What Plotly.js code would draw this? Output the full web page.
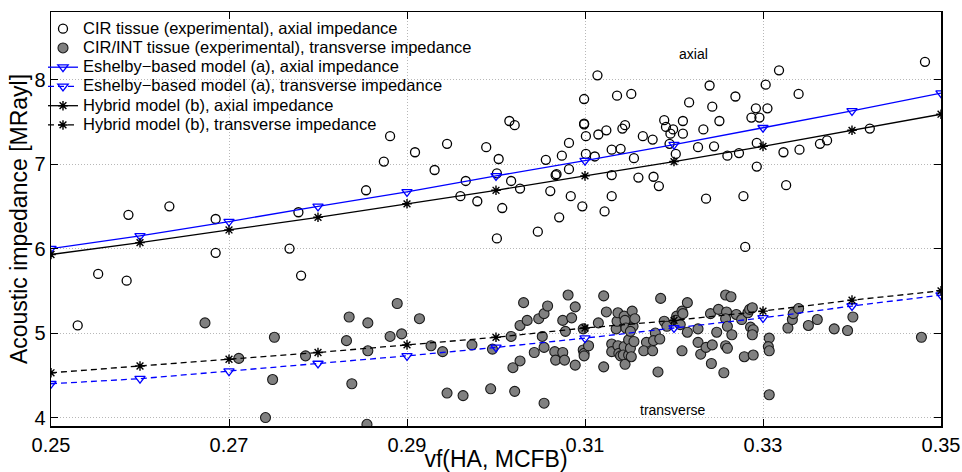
<!DOCTYPE html>
<html><head><meta charset="utf-8">
<script src="https://cdn.plot.ly/plotly-3.0.1.min.js"></script>
<style>html,body{margin:0;padding:0;background:#fff}#chart{width:962px;height:472px}</style>
</head><body><div id="chart"></div>
<script>
// CIR tissue (experimental), axial impedance
const axialX = [0.2530,0.2553,0.2585,0.2587,0.2633,0.2685,0.2685,0.2768,0.2778,0.2781,
0.2854,0.2874,0.2881,0.2909,0.2931,0.2945,0.2960,0.2966,0.2979,0.2989,
0.3001,0.3003,0.3001,0.3007,0.3015,0.3021,0.3017,0.3027,0.3047,0.3056,
0.3061,0.3067,0.3068,0.3071,0.3074,0.3082,0.3082,0.3084,0.3097,0.3099,
0.3099,0.3099,0.3101,0.3101,0.3111,0.3114,0.3115,0.3122,0.3124,0.3130,
0.3130,0.3130,0.3136,0.3140,0.3142,0.3145,0.3152,0.3155,0.3160,0.3165,
0.3176,0.3177,0.3183,0.3189,0.3191,0.3196,0.3199,0.3195,0.3202,0.3210,
0.3210,0.3217,0.3227,0.3233,0.3236,0.3240,0.3243,0.3245,0.3251,0.3260,
0.3269,0.3273,0.3278,0.3280,0.3287,0.3292,0.3296,0.3293,0.3293,0.3303,
0.3305,0.3318,0.3323,0.3326,0.3340,0.3341,0.3364,0.3372,0.3420,0.3482];
const axialY = [5.09,5.70,5.62,6.40,6.50,6.35,5.95,6.00,6.43,5.68,
6.69,7.03,7.33,7.14,6.93,7.24,6.62,6.80,6.56,7.20,
6.89,7.06,6.12,6.48,7.51,7.46,6.80,6.71,6.20,7.05,
6.68,6.87,6.88,6.37,7.10,7.25,6.94,6.62,6.50,7.77,
7.47,7.48,7.33,7.12,7.09,8.05,7.35,6.44,7.40,7.17,
6.87,6.62,7.81,7.18,7.42,7.46,7.83,7.07,6.84,7.33,
7.29,6.85,6.74,7.52,7.44,7.36,7.41,7.24,7.12,7.51,
7.36,7.73,7.20,7.41,6.59,7.93,7.68,7.21,7.51,7.10,
7.80,7.13,6.62,6.02,7.55,7.66,7.55,7.25,6.97,7.94,
7.66,8.11,7.14,6.75,7.83,7.17,7.24,7.28,7.42,8.21];

// CIR/INT tissue (experimental), transverse impedance
const transX = [0.2673,0.2711,0.2751,0.2749,0.2741,0.2786,0.2835,0.2832,0.2838,0.2856,
0.2856,0.2855,0.2889,0.2881,0.2894,0.2914,0.2927,0.2940,0.2945,0.2963,
0.2973,0.2994,0.2996,0.3017,0.3019,0.3021,0.3027,0.3027,0.3031,0.3035,
0.3043,0.3048,0.3054,0.3058,0.3052,0.3054,0.3054,0.3066,0.3067,0.3075,
0.3075,0.3077,0.3078,0.3081,0.3085,0.3089,0.3089,0.3098,0.3098,0.3099,
0.3099,0.3104,0.3115,0.3121,0.3121,0.3124,0.3130,0.3130,0.3135,0.3136,
0.3137,0.3137,0.3138,0.3140,0.3144,0.3145,0.3144,0.3143,0.3145,0.3146,
0.3149,0.3149,0.3151,0.3152,0.3153,0.3154,0.3155,0.3156,0.3151,0.3185,
0.3179,0.3169,0.3166,0.3176,0.3177,0.3184,0.3182,0.3189,0.3192,0.3203,
0.3202,0.3207,0.3209,0.3210,0.3215,0.3215,0.3209,0.3227,0.3227,0.3230,
0.3236,0.3243,0.3241,0.3242,0.3248,0.3250,0.3256,0.3258,0.3264,0.3259,
0.3258,0.3260,0.3258,0.3260,0.3265,0.3270,0.3276,0.3279,0.3283,0.3285,
0.3288,0.3286,0.3289,0.3288,0.3289,0.3307,0.3306,0.3307,0.3307,0.3328,
0.3333,0.3334,0.3340,0.3351,0.3361,0.3380,0.3395,0.3401,0.3478];
const transY = [5.12,4.70,4.95,4.45,4.00,4.73,5.19,4.91,4.40,5.12,
4.79,3.92,5.35,4.96,4.99,5.17,4.85,4.78,4.29,4.26,
4.86,4.34,4.81,4.96,4.59,4.31,4.67,5.09,5.36,5.15,
4.77,5.17,5.23,5.32,4.96,4.83,4.17,4.78,4.68,5.15,
4.77,4.68,5.02,5.45,5.18,5.31,4.62,5.05,4.80,4.76,
4.73,4.85,5.12,5.44,4.60,5.25,4.87,4.78,5.05,5.14,
5.24,4.85,4.76,4.73,5.20,5.15,4.84,4.74,4.63,5.06,
4.92,4.74,4.82,4.72,5.26,5.08,4.90,5.17,5.02,5.41,
5.00,4.89,4.79,4.79,4.91,4.93,4.54,5.14,5.08,5.20,
5.15,5.10,5.26,5.23,5.36,5.01,4.79,5.05,4.89,4.75,
4.83,4.86,5.23,4.64,5.01,5.28,4.53,5.45,5.43,5.25,
5.17,5.08,4.85,4.82,4.98,5.22,5.16,4.72,5.24,5.28,
5.30,5.07,5.04,4.98,4.74,4.94,4.84,4.79,4.27,5.06,
5.16,5.23,5.29,5.09,5.16,5.05,5.03,5.19,4.95];

// Model curves
const modelX = [0.25,0.26,0.27,0.28,0.29,0.30,0.31,0.32,0.33,0.34,0.35];
const eshelbyAxial = [6.00,6.15,6.32,6.50,6.67,6.86,7.04,7.23,7.43,7.63,7.84];
const eshelbyTrans = [4.40,4.46,4.55,4.64,4.73,4.83,4.94,5.06,5.18,5.32,5.45];
const hybridAxial  = [5.93,6.07,6.22,6.37,6.53,6.69,6.86,7.03,7.21,7.40,7.59];
const hybridTrans  = [4.53,4.61,4.69,4.77,4.86,4.95,5.06,5.15,5.26,5.39,5.50];

const xTicks = [0.25,0.27,0.29,0.31,0.33,0.35];
const xTickText = ['0.25','0.27','0.29','0.31','0.33','0.35'];
const yTicks = [4,5,6,7,8];

const FONT = 'Liberation Sans, Arial, Helvetica, sans-serif';
const lg = s => '<span style="font-size:16.5px">' + s + '</span>';

const traces = [
  {x: axialX, y: axialY, mode: 'markers', type: 'scatter',
   name: lg('CIR tissue (experimental), axial impedance'),
   marker: {symbol: 'circle-open', size: 9, color: '#000', line: {width: 1.3, color: '#000'}}},
  {x: transX, y: transY, mode: 'markers', type: 'scatter',
   name: lg('CIR/INT tissue (experimental), transverse impedance'),
   marker: {symbol: 'circle', size: 10, color: '#808080', line: {width: 1.1, color: '#1a1a1a'}}},
  {x: modelX, y: eshelbyAxial, mode: 'lines+markers', type: 'scatter',
   name: lg('Eshelby\u2212based model (a), axial impedance'),
   line: {color: '#0000ff', width: 1.3},
   marker: {symbol: 'triangle-down-open', size: 9, color: '#0000ff', line: {width: 1.3, color: '#0000ff'}}},
  {x: modelX, y: eshelbyTrans, mode: 'lines+markers', type: 'scatter',
   name: lg('Eshelby\u2212based model (a), transverse impedance'),
   line: {color: '#0000ff', width: 1.3, dash: '6px,4px'},
   marker: {symbol: 'triangle-down-open', size: 9, color: '#0000ff', line: {width: 1.3, color: '#0000ff'}}},
  {x: modelX, y: hybridAxial, mode: 'lines+markers', type: 'scatter',
   name: lg('Hybrid model (b), axial impedance'),
   line: {color: '#000', width: 1.3},
   marker: {symbol: 'asterisk-open', size: 8, color: '#000', line: {width: 1.4, color: '#000'}}},
  {x: modelX, y: hybridTrans, mode: 'lines+markers', type: 'scatter',
   name: lg('Hybrid model (b), transverse impedance'),
   line: {color: '#000', width: 1.3, dash: '6px,4px'},
   marker: {symbol: 'asterisk-open', size: 8, color: '#000', line: {width: 1.4, color: '#000'}}}
];

const layout = {
  width: 962, height: 472,
  margin: {l: 51, r: 21, t: 12, b: 46},
  paper_bgcolor: '#fff', plot_bgcolor: '#fff',
  font: {family: FONT, color: '#000', size: 20},
  showlegend: true,
  legend: {x: -0.009, y: 0.995, xanchor: 'left', yanchor: 'top',
    bgcolor: 'rgba(0,0,0,0)', borderwidth: 0,
    font: {family: FONT, size: 12.5, color: '#000'}, itemwidth: 30},
  xaxis: {range: [0.25, 0.35], tickmode: 'array', tickvals: xTicks, ticktext: xTickText,
    ticks: 'inside', ticklen: 7, tickwidth: 1, tickcolor: '#000',
    showline: true, linecolor: '#000', linewidth: 1.5, mirror: 'ticks',
    showgrid: true, gridcolor: '#b8b8b8', gridwidth: 1, griddash: '1px,2px',
    zeroline: false, tickfont: {size: 20},
    title: {text: 'vf(HA, MCFB)', font: {size: 23}, standoff: 13}},
  yaxis: {range: [3.9, 8.8], tickmode: 'array', tickvals: yTicks,
    ticks: 'inside', ticklen: 7, tickwidth: 1, tickcolor: '#000',
    showline: true, linecolor: '#000', linewidth: 1.5, mirror: 'ticks',
    showgrid: true, gridcolor: '#b8b8b8', gridwidth: 1, griddash: '1px,2px',
    zeroline: false, tickfont: {size: 20},
    title: {text: 'Acoustic impedance [MRayl]', font: {size: 23}, standoff: 0}},
  annotations: [
    {x: 0.3222, y: 8.30, xref: 'x', yref: 'y', text: 'axial', showarrow: false,
     font: {size: 14, family: FONT, color: '#000'}},
    {x: 0.3199, y: 4.09, xref: 'x', yref: 'y', text: 'transverse', showarrow: false,
     font: {size: 14, family: FONT, color: '#000'}}
  ]
};

Plotly.newPlot('chart', traces, layout, {displayModeBar: false, staticPlot: true});
</script>
</body></html>
